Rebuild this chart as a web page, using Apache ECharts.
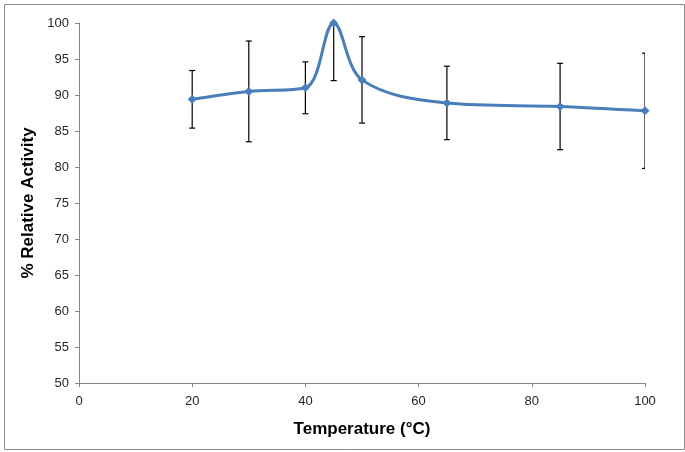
<!DOCTYPE html>
<html>
<head>
<meta charset="utf-8">
<script src="https://cdn.jsdelivr.net/npm/echarts@6/dist/echarts.min.js"></script>
<style>
html,body{margin:0;padding:0;background:#fff;}
#chart{width:685px;height:452px;}
</style>
</head>
<body>
<div id="chart"></div>
<script>
const temperatures = [20, 30, 40, 45, 50, 65, 85, 100];
const activity = [89.4, 90.5, 91.0, 100, 92.1, 88.9, 88.4, 87.8];
const errors = [4.0, 7.0, 3.6, 8.0, 6.0, 5.1, 6.0, 8.0];
const xTicks = [0, 20, 40, 60, 80, 100];
const yTicks = [50, 55, 60, 65, 70, 75, 80, 85, 90, 95, 100];

const chart = echarts.init(document.getElementById('chart'), null, {renderer: 'canvas'});
const font = '"Liberation Sans", Arial, sans-serif';
const lineData = temperatures.map((t, i) => [t, activity[i]]);
const errData = temperatures.map((t, i) => [t, activity[i] - errors[i], activity[i] + errors[i]]);

chart.setOption({
  animation: false,
  backgroundColor: '#fff',
  graphic: [{
    type: 'rect', left: 2, top: 2, z: -10, silent: true,
    shape: {width: 680, height: 445},
    style: {fill: 'none', stroke: '#8c8c8c', lineWidth: 1}
  }],
  grid: {left: 79, right: 40, top: 23, bottom: 69},
  xAxis: {
    type: 'value', min: xTicks[0], max: xTicks[xTicks.length - 1], interval: 20,
    name: 'Temperature (°C)', nameLocation: 'middle', nameGap: 38,
    nameTextStyle: {fontFamily: font, fontWeight: 'bold', fontSize: 17, color: '#000'},
    axisLine: {lineStyle: {color: '#868686', width: 1}},
    axisTick: {show: true, length: 4, inside: false, lineStyle: {color: '#868686'}},
    axisLabel: {fontFamily: font, fontSize: 13, color: '#262626', margin: 12},
    splitLine: {show: false}
  },
  yAxis: {
    type: 'value', min: yTicks[0], max: yTicks[yTicks.length - 1], interval: 5,
    name: '% Relative Activity', nameLocation: 'middle', nameGap: 41,
    nameTextStyle: {fontFamily: font, fontWeight: 'bold', fontSize: 17, color: '#000'},
    axisLine: {show: true, lineStyle: {color: '#868686', width: 1}},
    axisTick: {show: true, length: 4, lineStyle: {color: '#868686'}},
    axisLabel: {fontFamily: font, fontSize: 13, color: '#262626', margin: 10},
    splitLine: {show: false}
  },
  series: [
    {
      type: 'custom',
      z: 1,
      clip: true,
      data: errData,
      renderItem: function (params, api) {
        const x = api.value(0);
        const lo = api.coord([x, api.value(1)]);
        const hi = api.coord([x, api.value(2)]);
        const cap = 3;
        const style = {stroke: '#000', lineWidth: 1.2};
        return {
          type: 'group',
          children: [
            {type: 'line', shape: {x1: lo[0], y1: lo[1], x2: hi[0], y2: hi[1]}, style: style},
            {type: 'line', shape: {x1: lo[0] - cap, y1: lo[1], x2: lo[0] + cap, y2: lo[1]}, style: style},
            {type: 'line', shape: {x1: hi[0] - cap, y1: hi[1], x2: hi[0] + cap, y2: hi[1]}, style: style}
          ]
        };
      }
    },
    {
      type: 'line',
      z: 2,
      data: lineData,
      smooth: 0.35,
      symbol: 'diamond',
      symbolSize: 9,
      itemStyle: {color: '#4a7ebb'},
      lineStyle: {color: '#4a7ebb', width: 3}
    }
  ]
});
</script>
</body>
</html>
